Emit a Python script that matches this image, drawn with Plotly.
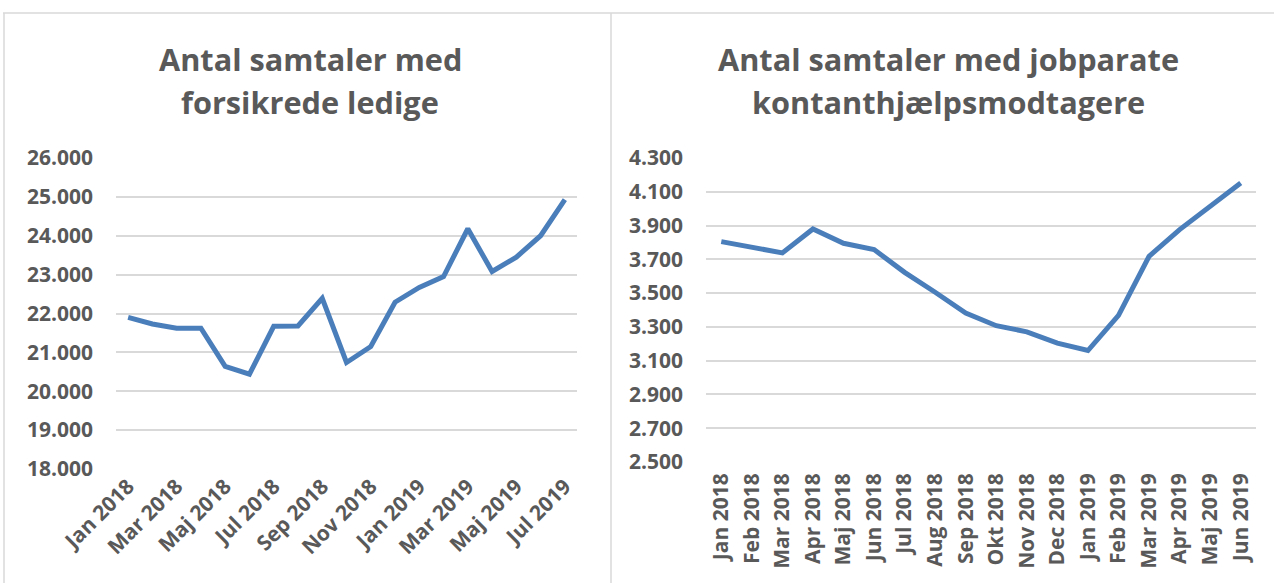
import plotly.graph_objects as go

W, H = 1274, 583

# ---- data ----
months_left = ["Jan 2018", "Feb 2018", "Mar 2018", "Apr 2018", "Maj 2018", "Jun 2018",
               "Jul 2018", "Aug 2018", "Sep 2018", "Okt 2018", "Nov 2018", "Dec 2018",
               "Jan 2019", "Feb 2019", "Mar 2019", "Apr 2019", "Maj 2019", "Jun 2019",
               "Jul 2019"]
forsikrede = [21900, 21730, 21620, 21620, 20640, 20440, 21670, 21680, 22390, 20740,
              21150, 22290, 22670, 22950, 24180, 23080, 23450, 24000, 24930]
left_ticks = ["Jan 2018", "Mar 2018", "Maj 2018", "Jul 2018", "Sep 2018", "Nov 2018",
              "Jan 2019", "Mar 2019", "Maj 2019", "Jul 2019"]
left_yticks = [18000, 19000, 20000, 21000, 22000, 23000, 24000, 25000, 26000]
left_ytext = ["18.000", "19.000", "20.000", "21.000", "22.000", "23.000", "24.000",
              "25.000", "26.000"]

months_right = ["Jan 2018", "Feb 2018", "Mar 2018", "Apr 2018", "Maj 2018", "Jun 2018",
                "Jul 2018", "Aug 2018", "Sep 2018", "Okt 2018", "Nov 2018", "Dec 2018",
                "Jan 2019", "Feb 2019", "Mar 2019", "Apr 2019", "Maj 2019", "Jun 2019"]
jobparate = [3805, 3773, 3738, 3880, 3795, 3758, 3623, 3505, 3382, 3307, 3271, 3204,
             3160, 3368, 3718, 3876, 4014, 4152]
right_yticks = [2500, 2700, 2900, 3100, 3300, 3500, 3700, 3900, 4100, 4300]
right_ytext = ["2.500", "2.700", "2.900", "3.100", "3.300", "3.500", "3.700", "3.900",
               "4.100", "4.300"]

title_left = ["Antal samtaler med", "forsikrede ledige"]
title_right = ["Antal samtaler med jobparate", "kontanthjælpsmodtagere"]

# ---- style ----
FONT = "Open Sans"
GREY = "#595959"
LINE = "#4A7EBB"
GRID = "#D9D9D9"


def px_x(x):
    return x / W


def px_y(y):
    return 1 - y / H


fig = go.Figure()
fig.add_trace(go.Scatter(x=months_left, y=forsikrede, mode="lines",
                         line=dict(color=LINE, width=5), xaxis="x", yaxis="y",
                         showlegend=False, hoverinfo="x+y"))
fig.add_trace(go.Scatter(x=months_right, y=jobparate, mode="lines",
                         line=dict(color=LINE, width=5), xaxis="x2", yaxis="y2",
                         showlegend=False, hoverinfo="x+y"))

tickfont = dict(family=FONT, size=21, color=GREY, weight="bold")

fig.update_layout(
    width=W, height=H,
    margin=dict(l=0, r=0, t=0, b=0),
    paper_bgcolor="white", plot_bgcolor="white",
    xaxis=dict(domain=[px_x(116), px_x(577)], anchor="y", type="category",
               categoryorder="array", categoryarray=months_left,
               range=[-0.5, len(months_left) - 0.5],
               tickmode="array", tickvals=left_ticks, ticktext=left_ticks,
               tickangle=-45, tickfont=tickfont, showgrid=False, showline=False,
               zeroline=False, ticks="", automargin=False),
    yaxis=dict(domain=[px_y(469), px_y(158)], anchor="x",
               range=[18000, 26000], tickmode="array", tickvals=left_yticks,
               ticktext=left_ytext, tickfont=tickfont, showgrid=True,
               gridcolor=GRID, gridwidth=1.5, zeroline=False, showline=False,
               ticks="", ticklabelstandoff=22, automargin=False),
    xaxis2=dict(domain=[px_x(706), px_x(1256)], anchor="y2", type="category",
                categoryorder="array", categoryarray=months_right,
                range=[-0.5, len(months_right) - 0.5],
                tickmode="array", tickvals=months_right, ticktext=months_right,
                tickangle=-90, tickfont=tickfont, showgrid=False, showline=False,
                zeroline=False, ticks="", ticklabelstandoff=6, automargin=False),
    yaxis2=dict(domain=[px_y(462), px_y(158)], anchor="x2",
                range=[2500, 4300], tickmode="array", tickvals=right_yticks,
                ticktext=right_ytext, tickfont=tickfont, showgrid=True,
                gridcolor=GRID, gridwidth=1.5, zeroline=False, showline=False,
                ticks="", ticklabelstandoff=22, automargin=False),
    showlegend=False,
)

# frame lines
border = dict(color="#D9D9D9", width=1.5)
fig.add_shape(type="line", xref="paper", yref="paper", x0=px_x(3), x1=1,
              y0=px_y(13), y1=px_y(13), line=border)
fig.add_shape(type="line", xref="paper", yref="paper", x0=px_x(4), x1=px_x(4),
              y0=px_y(13), y1=0, line=border)
fig.add_shape(type="line", xref="paper", yref="paper", x0=px_x(611), x1=px_x(611),
              y0=px_y(13), y1=0, line=border)

titlefont = dict(family=FONT, size=30.7, color=GREY, weight="bold")
for txt, cy in zip(title_left, [59, 102]):
    fig.add_annotation(text=txt, xref="paper", yref="paper", x=px_x(310), y=px_y(cy),
                       xanchor="center", yanchor="middle", showarrow=False,
                       font=titlefont)
for txt, cy in zip(title_right, [59, 102]):
    fig.add_annotation(text=txt, xref="paper", yref="paper", x=px_x(948), y=px_y(cy),
                       xanchor="center", yanchor="middle", showarrow=False,
                       font=titlefont)

fig.write_html("out.html",
               config={"displayModeBar": False},
               post_script="document.body.style.margin='0px';document.body.style.overflow='hidden';")
